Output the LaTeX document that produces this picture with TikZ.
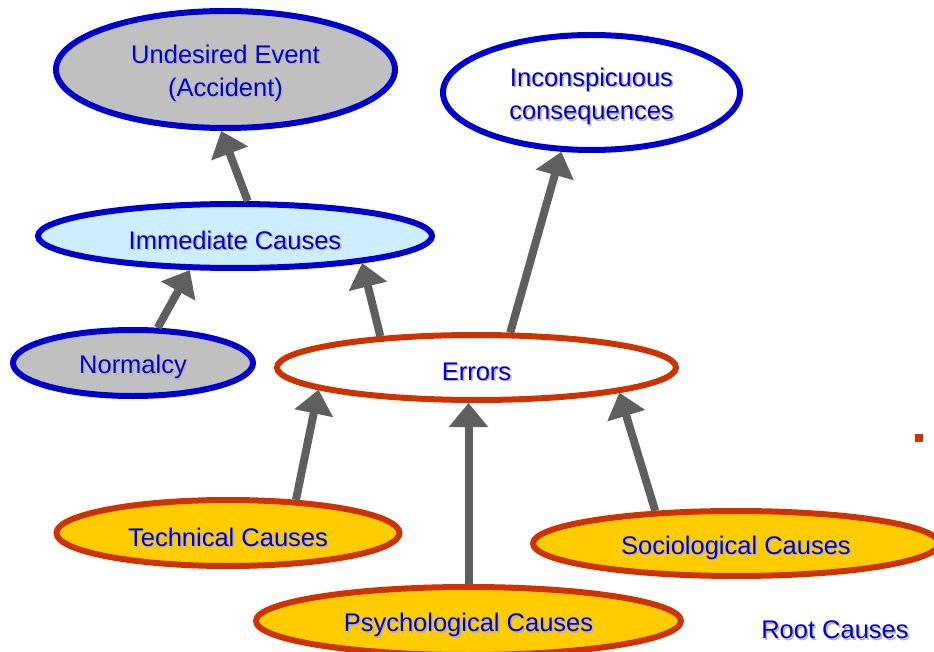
\documentclass[tikz,border=0pt]{standalone}
\usepackage{fontspec}
\setmainfont{Liberation Sans}
\usetikzlibrary{shapes.geometric,arrows.meta}
\definecolor{txtblue}{HTML}{0000CC}
\definecolor{bdblue}{HTML}{0000CC}
\definecolor{bdred}{HTML}{CC3300}
\definecolor{graybg}{HTML}{C0C0C0}
\definecolor{lightbg}{HTML}{CCEEFF}
\definecolor{yellowbg}{HTML}{FFCC00}
\definecolor{arrgray}{HTML}{5F5F5F}
\definecolor{shadowgray}{HTML}{B4B4B4}
\newcommand\shtxt[1]{\raisebox{-4pt}[\height][\depth]{\makebox[0pt][l]{\raisebox{-1.6pt}[0pt][0pt]{\kern1.6pt\textcolor{shadowgray}{#1}}}#1}}
\begin{document}
\begin{tikzpicture}[x=1pt,y=-1pt,
  ell/.style={ellipse, line width=6pt, inner sep=0pt, text=txtblue,
    font=\fontsize{25.5}{33.5}\selectfont, align=center},
  bluee/.style={ell, draw=bdblue},
  rede/.style={ell, draw=bdred},
  conn/.style={line width=8pt, draw=arrgray, -{Triangle[length=24pt,width=38pt]}},
  lbl/.style={text=txtblue, font=\fontsize{25.5}{33.5}\selectfont, inner sep=0pt}]
\useasboundingbox (0,0) rectangle (934,652);
\node[bluee, fill=graybg, minimum width=339pt, minimum height=117pt] (und) at (225.5,69.5) {\shtxt{Undesired Event}\\\shtxt{(Accident)}};
\node[bluee, fill=white, minimum width=297pt, minimum height=115pt] (inc) at (591.5,92.5) {\shtxt{Inconspicuous}\\\shtxt{consequences}};
\node[bluee, fill=lightbg, minimum width=394pt, minimum height=64pt] (imm) at (235,236) {\shtxt{Immediate Causes}};
\node[bluee, fill=graybg, minimum width=240pt, minimum height=66pt] (nor) at (133,363) {\shtxt{Normalcy}};
\node[rede, fill=white, minimum width=399pt, minimum height=65pt] (err) at (476.5,367.5) {\shtxt{Errors}};
\node[rede, fill=yellowbg, minimum width=343pt, minimum height=66pt] (tec) at (228,533) {\shtxt{Technical Causes}};
\node[rede, fill=yellowbg, minimum width=406pt, minimum height=65pt] (soc) at (736,543.5) {\shtxt{Sociological Causes}};
\node[rede, fill=yellowbg, minimum width=425pt, minimum height=68pt] (psy) at (468.5,621) {\shtxt{Psychological Causes}};
\node[lbl] (root) at (835,626) {\shtxt{Root Causes}};
\node[fill=bdred, minimum size=8pt, inner sep=0pt] (sq) at (919,438) {};
\draw[conn] (imm.70) -- (und.-94);
\draw[conn] (nor.55) -- (imm.-143);
\draw[conn] (err.162) -- (imm.-12);
\draw[conn] (err.46) -- (inc.-117);
\draw[conn] (tec.26) -- (err.-172);
\draw[conn] (psy.north) -- (psy.north |- err.south);
\draw[conn] (soc.158) -- (err.-10);
\end{tikzpicture}
\end{document}
